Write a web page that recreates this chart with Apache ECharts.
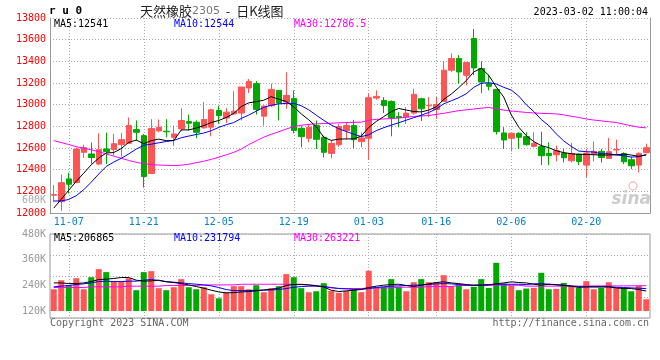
<!DOCTYPE html>
<html><head><meta charset="utf-8">
<script src="https://cdn.jsdelivr.net/npm/echarts@6/dist/echarts.min.js"></script>
<style>html,body{margin:0;padding:0;background:#fff}#c{width:660px;height:360px}</style>
</head><body><div id="c"></div>
<script>
// ---------- data ----------
const dates = ['11-03','11-04','11-07','11-08','11-09','11-10','11-11','11-14','11-15','11-16','11-17','11-18','11-21','11-22','11-23','11-24','11-25','11-28','11-29','11-30',
'12-01','12-02','12-05','12-06','12-07','12-08','12-09','12-12','12-13','12-14','12-15','12-16','12-19','12-20','12-21','12-22','12-23','12-26','12-27','12-28','12-29','12-30',
'01-03','01-04','01-05','01-06','01-09','01-10','01-11','01-12','01-13','01-16','01-17','01-18','01-19','01-20','01-30','01-31',
'02-01','02-02','02-03','02-06','02-07','02-08','02-09','02-10','02-13','02-14','02-15','02-16','02-17','02-20','02-21','02-22','02-23','02-24','02-27','02-28',
'03-01','03-02'];
const tickLabels = ['11-07','11-21','12-05','12-19','01-03','01-16','02-06','02-20'];

const open  = [12165,12105,12315,12281,12560,12545,12452,12591,12585,12631, 12643,12770,12714,12365,12758,12755,12699,12776,12844,12838,
               12786,12792,12946,12878,12915,12922,13154,13194,12894,12990, 13132,13024,13058,12782,12690,12807,12699,12550,12631,12761,
               12807,12659,12690,13061,13039,13030,12891,12885,12922,13055, 12990,12956,13030,13318,13426,13271,13611,13333,13194,13141,
               12739,12690,12736,12705,12615,12612,12551,12538,12553,12482, 12544,12442,12544,12569,12504,12582,12550,12492,12442,12557];
const close = [12170,12280,12265,12590,12603,12512,12585,12566,12640,12677, 12807,12745,12337,12779,12792,12750,12730,12854,12829,12745,
               12863,12953,12900,12931,12940,13163,13215,12956,12987,13141, 13014,13086,12761,12705,12792,12680,12560,12643,12798,12807,
               12677,12693,13064,13076,12993,12878,12880,12922,13095,12962, 12995,13002,13318,13426,13302,13389,13339,13209,13169,12752,
               12674,12736,12699,12631,12643,12529,12529,12575,12510,12550, 12476,12553,12569,12513,12566,12586,12473,12436,12550,12603];
const low   = [12100,12020,12180,12275,12510,12455,12442,12452,12529,12520, 12637,12668,12235,12358,12745,12699,12619,12755,12761,12690,
               12780,12708,12823,12832,12910,12854,13107,12909,12807,12977, 12854,12962,12736,12606,12652,12591,12513,12504,12612,12677,
               12597,12606,12489,13045,12922,12708,12792,12823,12909,12850, 12885,12869,13025,13302,13194,13178,13271,13107,13132,12724,
               12591,12569,12591,12622,12606,12442,12442,12476,12467,12467, 12442,12328,12476,12467,12500,12538,12451,12405,12374,12550];
const high  = [12260,12355,12372,12606,12630,12650,12736,12742,12730,12739, 12881,12854,12730,12866,12863,12866,12807,12968,12909,12854,
               13024,12962,12990,12968,13125,13165,13237,13218,12993,13194, 13135,13299,13132,12801,12823,12854,12714,12668,12823,12841,
               12860,12745,13101,13132,13070,13039,12931,12977,13147,13064, 13070,13070,13395,13472,13457,13395,13698,13401,13277,13145,
               12792,12739,12745,12745,12745,12751,12652,12622,12591,12646, 12550,12591,12659,12591,12693,12677,12560,12520,12560,12640];

const ma5  = [12045,12127,12210,12293,12368,12445,12507,12554,12558,12595, 12652,12673,12640,12668,12682,12668,12668,12767,12767,12784,
              12807,12835,12854,12882,12919,12983,13017,13028,13041,13074, 13050,13030,12980,12915,12860,12796,12699,12670,12682,12684,
              12684,12710,12790,12845,12890,12935,12965,12950,12937,12933, 12950,12980,13048,13098,13157,13222,13302,13336,13271,13163,
              13070,12906,12792,12714,12659,12622,12603,12575,12557,12547, 12541,12541,12538,12535,12535,12538,12544,12535,12523,12535];
const ma10 = [12111,12111,12125,12160,12215,12285,12360,12430,12470,12505, 12545,12590,12625,12635,12648,12660,12670,12695,12710,12725,
              12738,12760,12790,12815,12835,12873,12904,12940,12975,12995, 13007,13012,13012,12990,12952,12903,12855,12812,12778,12752,
              12728,12705,12722,12760,12788,12811,12833,12857,12880,12903, 12928,12960,13008,13036,13064,13101,13160,13197,13203,13191,
              13160,13135,13079,12999,12937,12863,12807,12730,12665,12615, 12572,12566,12563,12547,12547,12535,12529,12516,12520,12540];
const ma30 = [12668,12650,12632,12612,12598,12583,12566,12545,12525,12505, 12485,12468,12455,12447,12443,12440,12437,12442,12450,12465,
              12478,12495,12515,12537,12560,12590,12632,12666,12700,12727, 12750,12775,12798,12810,12818,12822,12826,12829,12832,12835,
              12837,12838,12856,12864,12868,12872,12877,12884,12891,12895, 12900,12910,12920,12933,12945,12952,12960,12968,12974,12962,
              12950,12942,12935,12928,12924,12920,12918,12915,12906,12893, 12882,12868,12858,12850,12843,12835,12820,12805,12792,12786];

const volume = [226000,320000,268000,341000,226000,351000,435000,404000,303000,303000, 341000,216000,404000,414000,237000,216000,247000,331000,247000,226000,
                247000,174000,132000,195000,258000,258000,226000,268000,195000,237000, 258000,383000,351000,237000,195000,205000,289000,209000,188000,209000,
                226000,195000,418000,240000,251000,331000,251000,205000,299000,331000, 299000,299000,372000,251000,275000,226000,251000,331000,240000,501000,
                285000,265000,216000,233000,240000,397000,226000,230000,292000,258000, 240000,310000,226000,240000,299000,240000,240000,205000,261000,122000];
const volMa5  = [292000,292000,285000,285000,292000,306000,327000,331000,338000,348000, 348000,320000,310000,313000,320000,303000,296000,285000,271000,254000,
                 237000,216000,198000,188000,191000,198000,202000,209000,219000,226000, 237000,265000,275000,275000,271000,261000,250000,216000,202000,209000,
                 216000,223000,244000,258000,268000,275000,278000,265000,254000,268000, 282000,296000,303000,292000,285000,275000,268000,268000,271000,282000,
                 292000,303000,296000,292000,278000,268000,278000,271000,265000,258000, 244000,251000,251000,251000,251000,240000,233000,233000,223000,207000];
const volMa10 = [251000,258000,265000,275000,282000,292000,306000,310000,306000,306000, 310000,310000,320000,327000,317000,306000,299000,292000,285000,278000,
                 271000,261000,244000,223000,212000,212000,212000,216000,216000,219000, 223000,233000,247000,254000,258000,258000,254000,244000,233000,230000,
                 226000,226000,233000,244000,251000,258000,261000,265000,268000,271000, 275000,282000,285000,282000,275000,268000,268000,271000,275000,278000,
                 278000,278000,278000,275000,282000,285000,278000,275000,268000,261000, 254000,251000,251000,251000,251000,247000,244000,240000,237000,232000];
const volMa30 = [244000,244000,244000,244000,244000,251000,251000,251000,251000,251000, 258000,258000,258000,258000,258000,265000,265000,265000,265000,265000,
                 271000,271000,271000,271000,271000,278000,278000,278000,278000,278000, 278000,278000,278000,278000,271000,265000,254000,240000,235000,233000,
                 233000,233000,240000,240000,240000,240000,247000,247000,247000,247000, 254000,254000,254000,254000,265000,265000,265000,265000,265000,268000,
                 268000,268000,268000,258000,258000,258000,258000,258000,258000,258000, 258000,258000,261000,261000,261000,261000,261000,262000,262000,263000];

const priceLegend = ['MA5:12541', 'MA10:12544', 'MA30:12786.5'];
const volLegend   = ['MA5:206865', 'MA10:231794', 'MA30:263221'];

// ---------- chart ----------
const MONO = '"DejaVu Sans Mono", monospace';
const UP = '#ff5555', DOWN = '#00a800';
const FRAME = '#999999';
const dotted = { color: '#aaaaaa', width: 1, type: [1, 2] };
const isTick = (i, v) => tickLabels.indexOf(v) >= 0;
const legendColors = ['#000000', '#0000ff', '#ff00ff'];

const candleData = dates.map((d, i) => [open[i], close[i], low[i], high[i]]);
const volData = volume.map((v, i) => ({ value: v, itemStyle: { color: close[i] >= open[i] ? UP : DOWN } }));

const txt = (x, y, text, fill, font, align) => ({
  type: 'text', x: x, y: y, silent: true, z: 50,
  style: { text: text, fill: fill, font: font, align: align || 'left', verticalAlign: 'middle' }
});

const graphics = [
  txt(49, 11, 'r u 0', '#000', 'bold 11px ' + MONO),
  {
    type: 'text', x: 140, y: 11, silent: true, z: 50,
    style: {
      text: '{a|天然橡胶}{b|2305}{a|  -  日K线图}', verticalAlign: 'middle',
      rich: {
        a: { fill: '#222', fontSize: 13, fontFamily: '"Noto Sans CJK SC"' },
        b: { fill: '#777', fontSize: 11, fontFamily: '"DejaVu Sans"' }
      }
    }
  },
  txt(648, 12, '2023-03-02 11:00:04', '#000', '10px ' + MONO, 'right'),
  txt(46, 200, '600K', '#aaaaaa', '10px ' + MONO, 'right'),
  txt(651, 200, 'sina', '#cccccc', 'italic bold 17px "DejaVu Sans"', 'right'),
  { type: 'circle', shape: { cx: 633, cy: 186, r: 4 }, silent: true, z: 50, style: { fill: 'none', stroke: '#f3c4c4', lineWidth: 1.5 } },
  txt(50, 323, 'Copyright 2023 SINA.COM', '#666', '10px ' + MONO),
  txt(649, 323, 'http://finance.sina.com.cn', '#666', '10px ' + MONO, 'right')
];
priceLegend.forEach((t, k) => graphics.push(txt(54 + 120 * k, 24, t, legendColors[k], '10px ' + MONO)));
volLegend.forEach((t, k) => graphics.push(txt(54 + 120 * k, 238, t, legendColors[k], '10px ' + MONO)));

const lineSeries = (data, color, xi, yi) => ({
  type: 'line', data: data, xAxisIndex: xi, yAxisIndex: yi, symbol: 'none', silent: true, z: 4,
  lineStyle: { color: color, width: 1 }
});

const option = {
  animation: false,
  backgroundColor: '#fff',
  grid: [
    { left: 50, top: 18, width: 600, height: 195, show: false },
    { left: 50, top: 234, width: 600, height: 84, show: true, borderColor: FRAME, borderWidth: 1, backgroundColor: 'transparent' },
    { left: 50, top: 234, width: 600, height: 77, show: false }
  ],
  xAxis: [
    { type: 'category', gridIndex: 0, data: dates, boundaryGap: true,
      axisLine: { show: true, lineStyle: { color: FRAME, width: 1 } }, axisTick: { show: false },
      axisLabel: { show: true, interval: isTick, color: '#0a80d0', fontFamily: MONO, fontSize: 10, margin: 4 },
      splitLine: { show: true, interval: isTick, alignWithLabel: true, lineStyle: dotted } },
    { type: 'category', gridIndex: 1, data: dates, boundaryGap: true,
      axisLine: { show: false }, axisTick: { show: false }, axisLabel: { show: false },
      splitLine: { show: true, interval: isTick, alignWithLabel: true, lineStyle: dotted } },
    { type: 'category', gridIndex: 2, data: dates, boundaryGap: true, show: false }
  ],
  yAxis: [
    { type: 'value', gridIndex: 0, min: 12000, max: 13800, interval: 200, position: 'left',
      axisLine: { show: true, lineStyle: { color: FRAME, width: 1 } }, axisTick: { show: false },
      axisLabel: { color: '#ff0000', fontFamily: MONO, fontSize: 10, margin: 4, formatter: v => String(v) },
      splitLine: { show: true, lineStyle: dotted } },
    { type: 'value', gridIndex: 0, min: 12000, max: 13800, position: 'right',
      axisLine: { show: true, lineStyle: { color: FRAME, width: 1 } }, axisTick: { show: false },
      axisLabel: { show: false }, splitLine: { show: false } },
    { type: 'value', gridIndex: 1, min: 0, max: 4, interval: 1,
      axisLine: { show: false }, axisTick: { show: false }, axisLabel: { show: false },
      splitLine: { show: true, lineStyle: dotted } },
    { type: 'value', gridIndex: 2, min: 0, max: 800000, show: false },
    { type: 'value', gridIndex: 2, min: 120000, max: 480000, interval: 120000, position: 'left',
      axisLine: { show: false }, axisTick: { show: false }, splitLine: { show: false },
      axisLabel: { color: '#999999', fontFamily: MONO, fontSize: 10, margin: 4, formatter: v => (v / 1000) + 'K' } }
  ],
  series: [
    { type: 'candlestick', data: candleData, xAxisIndex: 0, yAxisIndex: 0, barWidth: 6, silent: true, z: 3,
      itemStyle: { color: UP, color0: DOWN, borderColor: UP, borderColor0: DOWN, borderWidth: 1 } },
    lineSeries(ma30, '#ff00ff', 0, 0),
    lineSeries(ma10, '#0000ff', 0, 0),
    lineSeries(ma5, '#000000', 0, 0),
    { type: 'bar', data: volData, xAxisIndex: 2, yAxisIndex: 3, barWidth: 6, silent: true, z: 3 },
    lineSeries(volMa30, '#ff00ff', 2, 3),
    lineSeries(volMa10, '#0000ff', 2, 3),
    lineSeries(volMa5, '#000000', 2, 3)
  ],
  graphic: { elements: graphics }
};

const chart = echarts.init(document.getElementById('c'), null, { renderer: 'canvas' });
chart.setOption(option);
</script></body></html>
